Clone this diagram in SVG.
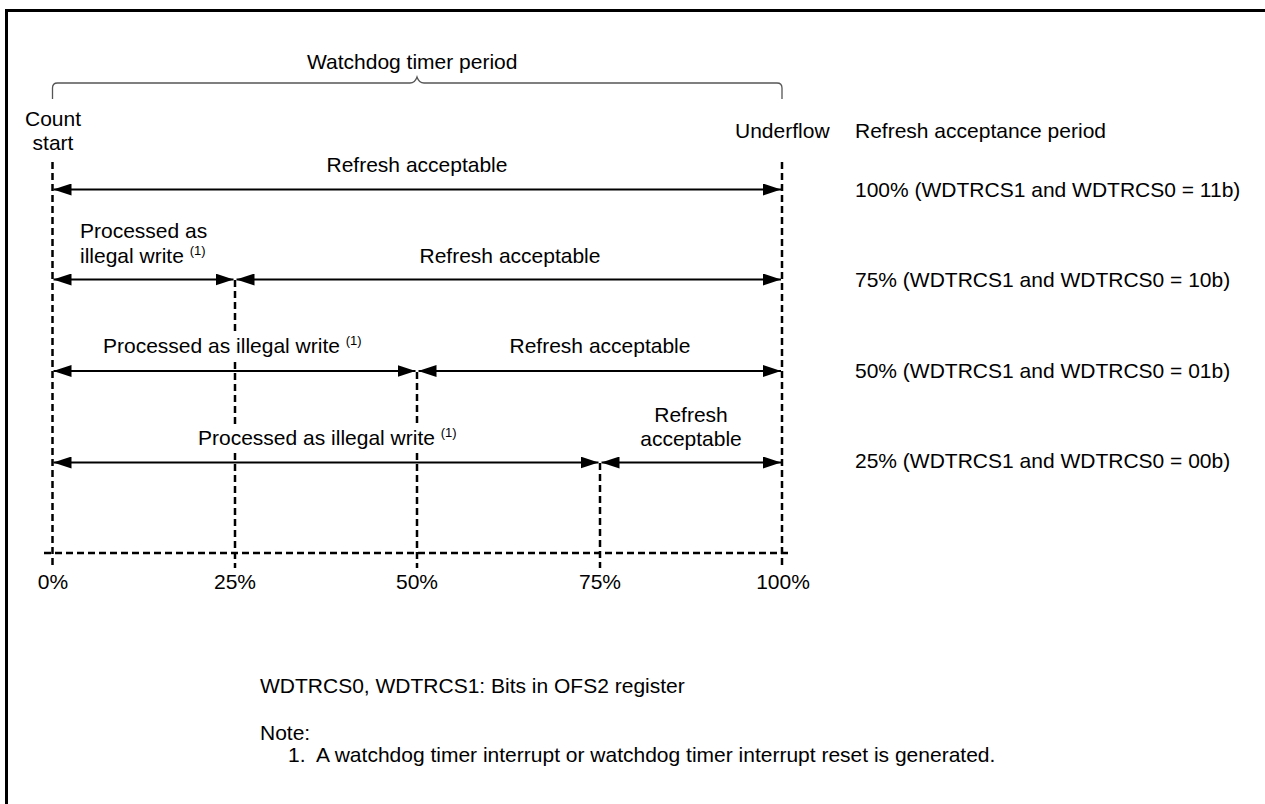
<svg xmlns="http://www.w3.org/2000/svg" width="1265" height="804" viewBox="0 0 1265 804">
  <defs>
    <marker id="ah" viewBox="0 0 18 12" markerWidth="18" markerHeight="12" refX="18" refY="6" orient="auto-start-reverse" markerUnits="userSpaceOnUse">
      <path d="M0,0 L18,6 L0,12 z" fill="#000"/>
    </marker>
    <style>
      text { font-family: "Liberation Sans", Arial, sans-serif; font-size: 21px; fill: #000; }
      .mid { text-anchor: middle; }
      .sup { font-size: 13px; }
      .arrow { stroke: #000; stroke-width: 2; fill: none; marker-start: url(#ah); marker-end: url(#ah); }
      .dash { stroke: #000; stroke-width: 2.5; stroke-dasharray: 7 4; fill: none; }
      .brace { stroke: #555; stroke-width: 1.3; fill: none; }
    </style>
  </defs>
  <rect width="1265" height="804" fill="#fff"/>
  <path d="M6.5,804 V10.5 H1265" fill="none" stroke="#000" stroke-width="3"/>

  <g id="period-brace">
    <path class="brace" d="M52.5,99 V88 Q52.5,83 57.5,83 H410 Q415,83 417,77 Q419,83 424,83 H777 Q782,83 782,88 V99"/>
    <text x="307" y="69">Watchdog timer period</text>
  </g>

  <g id="count-start"><text class="mid" x="53" y="126">Count</text><text class="mid" x="53" y="150">start</text></g>
  <g id="underflow"><text x="735" y="138">Underflow</text></g>
  <g id="legend-title"><text x="855" y="138">Refresh acceptance period</text></g>

  <g id="gridlines">
    <line class="dash" x1="52.5" y1="162" x2="52.5" y2="568"/>
    <line class="dash" x1="782" y1="162" x2="782" y2="568"/>
    <line class="dash" x1="235" y1="280" x2="235" y2="334"/>
    <line class="dash" x1="235" y1="362" x2="235" y2="427"/>
    <line class="dash" x1="235" y1="453" x2="235" y2="568"/>
    <line class="dash" x1="417" y1="372" x2="417" y2="427"/>
    <line class="dash" x1="417" y1="453" x2="417" y2="568"/>
    <line class="dash" x1="600" y1="463" x2="600" y2="568"/>
    <line class="dash" x1="44" y1="553" x2="792" y2="553"/>
  </g>

  <g id="connectors">
    <line class="arrow" x1="53.5" y1="189.5" x2="781" y2="189.5"/>
    <line class="arrow" x1="53.5" y1="279.5" x2="233.5" y2="279.5"/>
    <line class="arrow" x1="236.5" y1="279.5" x2="781" y2="279.5"/>
    <line class="arrow" x1="53.5" y1="371" x2="415.5" y2="371"/>
    <line class="arrow" x1="418.5" y1="371" x2="781" y2="371"/>
    <line class="arrow" x1="53.5" y1="462.5" x2="598.5" y2="462.5"/>
    <line class="arrow" x1="601.5" y1="462.5" x2="781" y2="462.5"/>
  </g>

  <g id="row-100">
    <text class="mid" x="417" y="172">Refresh acceptable</text>
    <text x="855" y="197">100% (WDTRCS1 and WDTRCS0 = 11b)</text>
  </g>
  <g id="row-75">
    <text x="80" y="238">Processed as</text>
    <text x="80" y="263">illegal write <tspan class="sup" dy="-8">(1)</tspan></text>
    <text class="mid" x="510" y="263">Refresh acceptable</text>
    <text x="855" y="287">75% (WDTRCS1 and WDTRCS0 = 10b)</text>
  </g>
  <g id="row-50">
    <text x="103" y="353">Processed as illegal write <tspan class="sup" dy="-8">(1)</tspan></text>
    <text class="mid" x="600" y="353">Refresh acceptable</text>
    <text x="855" y="378">50% (WDTRCS1 and WDTRCS0 = 01b)</text>
  </g>
  <g id="row-25">
    <text x="198" y="445">Processed as illegal write <tspan class="sup" dy="-8">(1)</tspan></text>
    <text class="mid" x="691" y="422">Refresh</text>
    <text class="mid" x="691" y="446">acceptable</text>
    <text x="855" y="468">25% (WDTRCS1 and WDTRCS0 = 00b)</text>
  </g>

  <g id="axis-labels">
    <text class="mid" x="53" y="589">0%</text>
    <text class="mid" x="235" y="589">25%</text>
    <text class="mid" x="417" y="589">50%</text>
    <text class="mid" x="600" y="589">75%</text>
    <text class="mid" x="783" y="589">100%</text>
  </g>

  <g id="notes">
    <text x="260" y="693">WDTRCS0, WDTRCS1: Bits in OFS2 register</text>
    <text x="260" y="740">Note:</text>
    <text x="288" y="762" xml:space="preserve">1.  A watchdog timer interrupt or watchdog timer interrupt reset is generated.</text>
  </g>
</svg>
